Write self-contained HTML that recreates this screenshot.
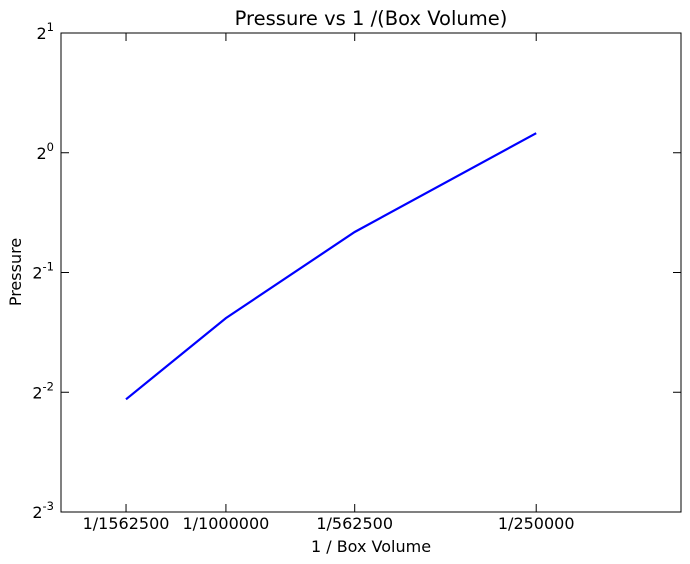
<!DOCTYPE html>
<html><head><meta charset="utf-8"><style>
body{margin:0;background:#fff}
svg{display:block;font-family:"DejaVu Sans","Liberation Sans",sans-serif}
</style></head><body>
<svg id="chart" width="690" height="564" viewBox="0 0 690 564" xmlns="http://www.w3.org/2000/svg">
<rect x="0" y="0" width="690" height="564" fill="#fff"/>
<text x="371" y="25" font-size="19.5" text-anchor="middle">Pressure vs 1 /(Box Volume)</text>
<text x="371" y="552" font-size="16" text-anchor="middle">1 / Box Volume</text>
<text transform="translate(21,272) rotate(-90)" font-size="16" text-anchor="middle">Pressure</text>
<g id="ticks"></g>
<path id="line" fill="none" stroke="#0000ff" stroke-width="2.2"/>
<rect x="61" y="33" width="620" height="479" fill="none" stroke="#000" stroke-width="1"/>
</svg>
<script>
const volumes = [1562500, 1000000, 562500, 250000];
const pressures = [0.240, 0.384, 0.632, 1.12];
const xTickLabels = ["1/1562500", "1/1000000", "1/562500", "1/250000"];
const yTickExps = [-3, -2, -1, 0, 1];

const L=61,R=681,T=33,B=512;
const xMin=-6.320, xMax=-5.117;
function xs(v){return L+(Math.log10(v)-xMin)/(xMax-xMin)*(R-L);}
function ys(p){return B-(Math.log2(p)+3)/4*(B-T);}
const NS="http://www.w3.org/2000/svg";
const g=document.getElementById('ticks');
function mk(tag,attrs){const e=document.createElementNS(NS,tag);for(const k in attrs)e.setAttribute(k,attrs[k]);g.appendChild(e);return e;}
volumes.forEach((v,i)=>{
  const x=xs(1/v);
  const t1=mk('line',{x1:x,x2:x,y1:B,y2:B-8,stroke:'#000'});
  
  
  const t2=mk('line',{x1:x,x2:x,y1:T,y2:T+8,stroke:'#000'});
  
  
  const lb=mk('text',{x:x,y:529,'font-size':16,'text-anchor':'middle'});
  lb.textContent=xTickLabels[i];
  
  
});
yTickExps.forEach(e=>{
  const y=ys(Math.pow(2,e));
  const t1=mk('line',{x1:L,x2:L+8,y1:y,y2:y,stroke:'#000'});
  
  
  const t2=mk('line',{x1:R,x2:R-8,y1:y,y2:y,stroke:'#000'});
  
  
  const lb=mk('text',{x:54,y:y+6,'font-size':16,'text-anchor':'end'});
  
  
  const b=document.createElementNS(NS,'tspan');b.textContent='2';lb.appendChild(b);
  const s=document.createElementNS(NS,'tspan');s.setAttribute('dy','-8');s.setAttribute('font-size','11.5');s.textContent=String(e);lb.appendChild(s);
});
document.getElementById('line').setAttribute('d',volumes.map((v,i)=>(i?'L':'M')+xs(1/v).toFixed(1)+','+ys(pressures[i]).toFixed(1)).join(' '));
</script>
</body></html>
